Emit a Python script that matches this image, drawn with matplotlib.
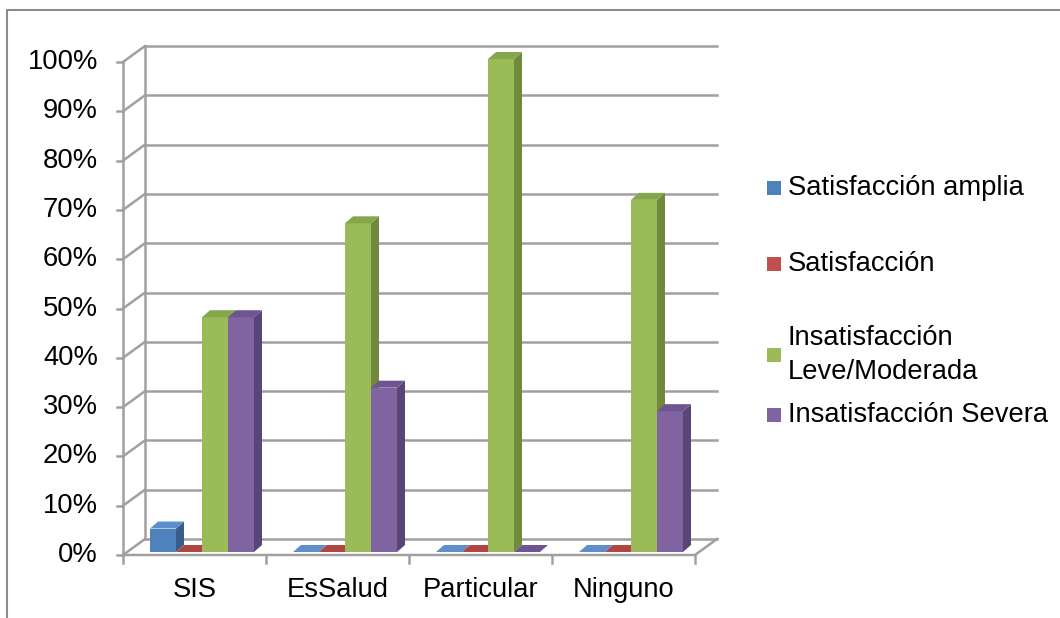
import numpy as np
import matplotlib
matplotlib.use('Agg')
import matplotlib.pyplot as plt
from matplotlib.patches import Polygon, Rectangle
from matplotlib.lines import Line2D

plt.rcParams['font.family'] = ['Liberation Sans', 'DejaVu Sans']

categories = ['SIS', 'EsSalud', 'Particular', 'Ninguno']
series = ['Satisfacción amplia', 'Satisfacción', 'Insatisfacción\nLeve/Moderada', 'Insatisfacción Severa']
amplia = [4.76, 0, 0, 0]
satisf = [0, 0, 0, 0]
leve = [47.62, 66.67, 100, 71.43]
severa = [47.62, 33.33, 0, 28.57]
yticks = [0, 10, 20, 30, 40, 50, 60, 70, 80, 90, 100]

front = ['#4F81BD', '#C0504D', '#9BBB59', '#8064A2']
side = ['#385D8A', '#8C3836', '#6F8A3D', '#5A4676']
top = ['#5F8FCB', '#B04542', '#86A64B', '#6E5592']

W, H = 1060, 618
fig = plt.figure(figsize=(W / 100, H / 100), dpi=100)

# pixel geometry of the front plane
x0, x1 = 123, 695
y0, y1 = 555, 62
ax = fig.add_axes([x0 / W, 1 - y0 / H, (x1 - x0) / W, (y0 - y1) / H])
ax.set_xlim(0, 4)
ax.set_ylim(0, 100)
ax.axis('off')

px_x = (x1 - x0) / 4.0
px_y = (y0 - y1) / 100.0
DX, DY = 22 / px_x, 16 / px_y          # wall depth
bdx, bdy = 8 / px_x, 7 / px_y          # bar depth
oy = 3 / px_y                          # bar front offset
grid = '#A0A0A0'
lw = 1.8

# back wall gridlines and left wall diagonals
for t in yticks:
    ax.plot([DX, 4 + DX], [t + DY, t + DY], color=grid, lw=lw, clip_on=False, zorder=1)
    ax.plot([0, DX], [t, t + DY], color=grid, lw=lw, clip_on=False, zorder=1)
    ax.plot([-6 / px_x, 0], [t, t], color=grid, lw=lw, clip_on=False, zorder=1)
ax.plot([DX, DX], [DY, 100 + DY], color=grid, lw=lw, clip_on=False, zorder=1)
# floor
ax.plot([0, 4, 4 + DX], [0, 0, DY], color=grid, lw=lw, clip_on=False, zorder=1)
ax.plot([0, 0], [0, 100], color=grid, lw=lw, clip_on=False, zorder=1)
for i in range(5):
    ax.plot([i, i], [0, -8 / px_y], color=grid, lw=lw, clip_on=False, zorder=1)

# bars with fake depth
data = [amplia, satisf, leve, severa]
bw = 26 / px_x
start = 27 / px_x
z = 3
for i in range(len(categories)):
    for k in range(4):
        v = data[k][i]
        xl = i + start + k * bw
        yb = oy
        if v > 0:
            ax.bar(xl, v, bw, bottom=yb, align='edge', color=front[k], lw=0, zorder=z, clip_on=False)
        sx = [(xl + bw, yb), (xl + bw, yb + v), (xl + bw + bdx, yb + v + bdy), (xl + bw + bdx, yb + bdy)]
        ax.add_patch(Polygon(sx, closed=True, fc=side[k], ec='none', zorder=z, clip_on=False))
        tp = [(xl, yb + v), (xl + bw, yb + v), (xl + bw + bdx, yb + v + bdy), (xl + bdx, yb + v + bdy)]
        ax.add_patch(Polygon(tp, closed=True, fc=top[k], ec='none', zorder=z, clip_on=False))
        z += 1

# tick labels
for t in yticks:
    ax.text(-25 / px_x, t, f'{t}%', ha='right', va='center', fontsize=19.7, clip_on=False)
for i, c in enumerate(categories):
    ax.text(i + 0.5, -35 / px_y, c, ha='center', va='center', fontsize=19.7, clip_on=False)

# legend
leg_y = [188, 264, 355, 415]
for k, lab in enumerate(series):
    fig.patches.append(Rectangle((767 / W, 1 - (leg_y[k] + 7) / H), 14 / W, 14 / H,
                                 transform=fig.transFigure, fc=front[k], ec='none'))
    if '\n' in lab:
        fig.text(788 / W, 1 - 338 / H, lab.split('\n')[0], ha='left', va='center', fontsize=19.7)
        fig.text(788 / W, 1 - 372 / H, lab.split('\n')[1], ha='left', va='center', fontsize=19.7)
    else:
        fig.text(788 / W, 1 - leg_y[k] / H, lab, ha='left', va='center', fontsize=19.7)

# outer frame
fig.add_artist(Line2D([7 / W, 7 / W, 1], [0, 1 - 10 / H, 1 - 10 / H], transform=fig.transFigure,
                      color='#8C8C8C', lw=1.5))

fig.savefig('out.png', dpi=100)
